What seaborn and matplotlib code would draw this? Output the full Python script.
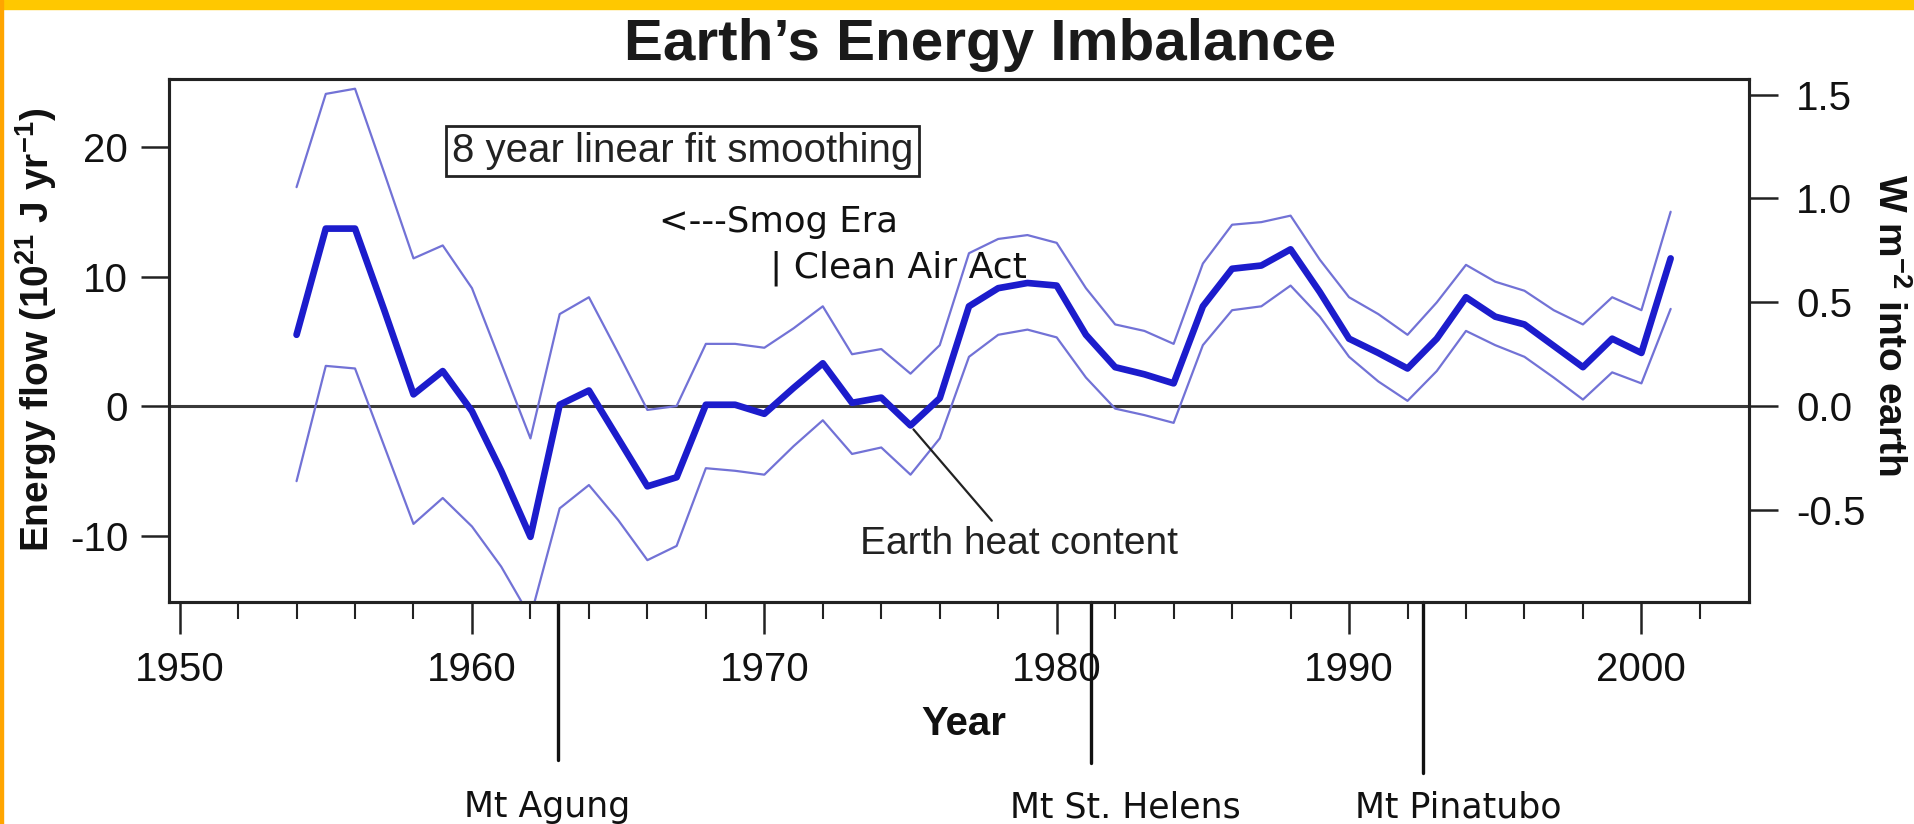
import numpy as np
import pandas as pd
import matplotlib
matplotlib.use("Agg")
import matplotlib.pyplot as plt
import seaborn as sns
from matplotlib.patches import Rectangle
from matplotlib.ticker import MultipleLocator

# ---------------- data ----------------
years = list(range(1954, 2002))
central = [5.5, 13.7, 13.7, 7.4, 0.9, 2.7, -0.4, -5.0, -10.1, 0.1,
           1.2, -2.5, -6.2, -5.5, 0.1, 0.1, -0.6, 1.4, 3.3, 0.25,
           0.65, -1.5, 0.6, 7.7, 9.1, 9.5, 9.3, 5.5, 3.0, 2.45,
           1.75, 7.7, 10.6, 10.85, 12.1, 8.8, 5.2, 4.1, 2.9, 5.2,
           8.4, 6.9, 6.3, 4.65, 3.0, 5.2, 4.1, 11.4]
upper = [16.9, 24.1, 24.5, 18.0, 11.4, 12.4, 9.1, 3.3, -2.5, 7.1,
         8.4, 4.1, -0.3, 0.0, 4.8, 4.8, 4.5, 6.0, 7.7, 4.0,
         4.4, 2.5, 4.7, 11.8, 12.9, 13.2, 12.6, 9.1, 6.3, 5.8,
         4.8, 11.0, 14.0, 14.2, 14.7, 11.3, 8.4, 7.1, 5.5, 8.0,
         10.9, 9.6, 8.9, 7.4, 6.3, 8.4, 7.4, 15.0]
lower = [-5.8, 3.1, 2.9, -3.1, -9.1, -7.1, -9.3, -12.4, -16.3, -7.9,
         -6.1, -8.8, -11.9, -10.8, -4.8, -5.0, -5.3, -3.1, -1.1, -3.7,
         -3.2, -5.3, -2.5, 3.8, 5.5, 5.9, 5.3, 2.2, -0.2, -0.7,
         -1.3, 4.7, 7.4, 7.7, 9.3, 6.9, 3.8, 1.9, 0.4, 2.7,
         5.8, 4.7, 3.8, 2.2, 0.5, 2.6, 1.75, 7.5]

xticks = [1950, 1960, 1970, 1980, 1990, 2000]
xtick_labels = ["1950", "1960", "1970", "1980", "1990", "2000"]
yticks_left = [-10, 0, 10, 20]
yticks_right = [-0.5, 0.0, 0.5, 1.0, 1.5]
ytick_right_labels = ["-0.5", "0.0", "0.5", "1.0", "1.5"]
volcano_names = ["Mt Agung", "Mt St. Helens", "Mt Pinatubo"]
volcano_years = [1962.95, 1981.16, 1992.52]

# ---------------- style ----------------
sns.set_style("ticks")
plt.rcParams['font.family'] = ['Liberation Sans', 'DejaVu Sans']
plt.rcParams['mathtext.default'] = 'regular'

W, H = 1915, 824
fig = plt.figure(figsize=(W / 100, H / 100), dpi=100)
fig.patch.set_facecolor('white')

# yellow frame (top / left)
fig.patches.append(Rectangle((0, 1 - 9 / H), 1, 9 / H, transform=fig.transFigure,
                             color='#FFC800', zorder=0))
fig.patches.append(Rectangle((0, 0), 3 / W, 1, transform=fig.transFigure,
                             color='#FFA500', zorder=0))

ax_l, ax_r, ax_t, ax_b = 168.5, 1749, 79, 602
ax = fig.add_axes([ax_l / W, 1 - ax_b / H, (ax_r - ax_l) / W, (ax_b - ax_t) / H])

df = pd.DataFrame({'year': years, 'central': central, 'upper': upper, 'lower': lower})
band_col = '#7272d6'
sns.lineplot(data=df, x='year', y='upper', ax=ax, color=band_col, lw=1.6, zorder=3)
sns.lineplot(data=df, x='year', y='lower', ax=ax, color=band_col, lw=1.6, zorder=3)
sns.lineplot(data=df, x='year', y='central', ax=ax, color='#1c1ccc', lw=4.8, zorder=4)
ax.axhline(0, color='#3a3a3a', lw=2.2, zorder=2)

xmin, xmax = 1949.62, 2003.68
ymin, ymax = -15.13, 25.25
scale = 16.03   # 10^21 J/yr per W m^-2
ax.set_xlim(xmin, xmax)
ax.set_ylim(ymin, ymax)
ax.set_xticks(xticks)
ax.set_xticklabels(xtick_labels)
ax.xaxis.set_minor_locator(MultipleLocator(2))
ax.set_yticks(yticks_left)
ax.set_yticklabels([str(v) for v in yticks_left])
ax.tick_params(axis='x', which='major', length=23, width=1.8, pad=12, labelsize=29,
               direction='out', color='#222', labelcolor='#111')
ax.tick_params(axis='x', which='minor', length=12, width=1.5, direction='out', color='#222')
ax.tick_params(axis='y', which='major', length=20, width=1.8, pad=9, labelsize=29,
               direction='out', color='#222', labelcolor='#111')
for s in ax.spines.values():
    s.set_linewidth(2.2)
    s.set_color('#222')
    s.set_visible(True)

ax.set_xlabel('Year', fontsize=29, fontweight='bold', va='center', color='#111')
ax.xaxis.set_label_coords((964 - ax_l) / (ax_r - ax_l), -(724 - ax_b) / (ax_b - ax_t))
ax.set_ylabel(r'Energy flow (10$^{21}$ J yr$^{-1}$)', fontsize=28, fontweight='bold',
              va='center', color='#111')
ax.yaxis.set_label_coords((36 - ax_l) / (ax_r - ax_l), 0.52)

ax2 = ax.twinx()
ax2.set_ylim(ymin / scale, ymax / scale)
ax2.set_yticks(yticks_right)
ax2.set_yticklabels(ytick_right_labels)
ax2.tick_params(axis='y', which='major', length=21, width=1.8, pad=13, labelsize=29,
                direction='out', color='#222', labelcolor='#111')
for s in ax2.spines.values():
    s.set_linewidth(2.2)
    s.set_color('#222')
ax2.set_ylabel(r'W m$^{-2}$ into earth', fontsize=28, fontweight='bold', rotation=270,
               va='center', color='#111')
ax2.yaxis.set_label_coords((1889 - ax_l) / (ax_r - ax_l), 0.53)

# volcano markers
axh = ax_b - ax_t
ends = [-(760 - ax_b) / axh, -(763 - ax_b) / axh, -(773 - ax_b) / axh]
label_x = [547, 1125, 1458]
for name, yr, e, lx in zip(volcano_names, volcano_years, ends, label_x):
    ax.plot([yr, yr], [0, e], transform=ax.get_xaxis_transform(), clip_on=False,
            color='#111', lw=2.4, zorder=1)
    fig.text(lx / W, 1 - 807 / H, name, ha='center', va='center', fontsize=25,
             family='DejaVu Sans', color='#111')

# annotations
ax.text(1959.3, 19.7, '8 year linear fit smoothing', fontsize=29, ha='left', va='center',
        color='#222', zorder=6,
        bbox=dict(boxstyle='square,pad=0.14', fc='white', ec='#222', lw=2))
ax.text(1966.4, 14.2, '<---Smog Era', fontsize=25.5, family='DejaVu Sans', ha='left',
        va='center', color='#111', zorder=6)
ax.text(1970.2, 10.6, '| Clean Air Act', fontsize=26, family='DejaVu Sans', ha='left',
        va='center', color='#111', zorder=6)
ax.annotate('Earth heat content', xy=(1975.1, -1.8), xytext=(1978.7, -10.66),
            ha='center', va='center', fontsize=28, color='#222', zorder=6,
            arrowprops=dict(arrowstyle='-', color='#222', lw=1.6, shrinkA=2, shrinkB=0,
                            relpos=(0.43, 1.0)))

fig.text(980 / W, 1 - 45 / H, 'Earth\u2019s Energy Imbalance', ha='center', va='center',
         fontsize=42, fontweight='bold', color='#1a1a1a')

# white backing behind tick labels (interrupts the St. Helens marker like the original)
fig.canvas.draw()
for lbl in ax.get_xticklabels():
    lbl.set_bbox(dict(facecolor='white', edgecolor='none', pad=4))

fig.savefig('out.png', dpi=100, facecolor='white')
